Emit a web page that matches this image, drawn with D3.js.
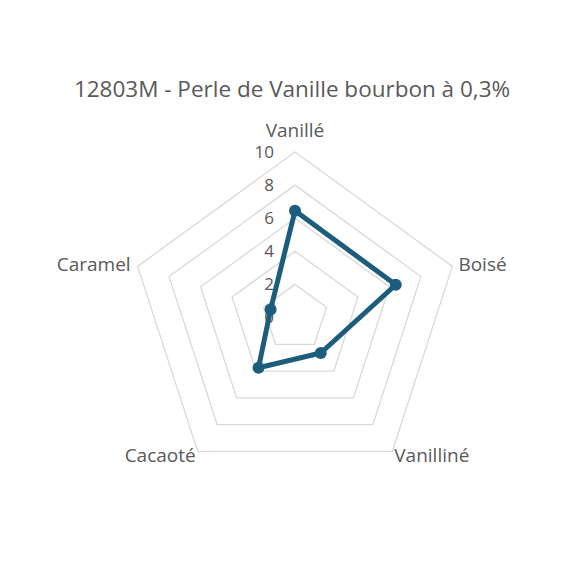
<!DOCTYPE html>
<html>
<head>
<meta charset="utf-8">
<script src="https://cdn.jsdelivr.net/npm/d3@7"></script>
<style>
  body { margin: 0; background: #fff; }
  text { font-family: "Open Sans", sans-serif; fill: #595959; }
</style>
</head>
<body>
<script>
let title = "12803M - Perle de Vanille bourbon à 0,3%";
let axesNames = ["Vanillé", "Boisé", "Vanilliné", "Cacaoté", "Caramel"];
let values = [6.45, 6.4, 2.65, 3.75, 1.55];
let ticks = [0, 2, 4, 6, 8, 10];

let svgWidth = 585,
    svgHeight = 585,
    center = { x: 295, y: 317.5 },
    radius = 165.5,
    lineColor = "#1c5c7c",
    gridColor = "#d9d9d9";

let svg = d3.select("body").append("svg")
    .attr("width", svgWidth)
    .attr("height", svgHeight);

let r = d3.scaleLinear().domain([0, 10]).range([0, radius]);
let angle = d3.scalePoint().domain(d3.range(axesNames.length + 1)).range([0, 2 * Math.PI]);

function pos(i, v) {
    let a = angle(i % axesNames.length);
    return [center.x + r(v) * Math.sin(a), center.y - r(v) * Math.cos(a)];
}

let g = svg.append("g");

// grid pentagons, no spokes
g.selectAll(".grid")
    .data(ticks.filter(t => t > 0))
    .enter().append("polygon")
    .attr("class", "grid")
    .attr("points", t => axesNames.map((d, i) => pos(i, t).join(",")).join(" "))
    .attr("fill", "none")
    .attr("stroke", gridColor)
    .attr("stroke-width", 1.3);

// tick labels
g.selectAll(".tick")
    .data(ticks)
    .enter().append("text")
    .attr("class", "tick")
    .attr("x", center.x - 21)
    .attr("y", t => center.y - r(t))
    .attr("dy", "0.35em")
    .attr("text-anchor", "end")
    .style("font-size", "17px")
    .text(t => t);

// axis labels
let labelOffsets = [
    { dx: 0, dy: -22, anchor: "middle" },
    { dx: 6, dy: -2, anchor: "start" },
    { dx: 2, dy: 4, anchor: "start" },
    { dx: -2, dy: 4, anchor: "end" },
    { dx: -7, dy: -2, anchor: "end" }
];
g.selectAll(".label")
    .data(axesNames)
    .enter().append("text")
    .attr("class", "label")
    .attr("x", (d, i) => pos(i, 10)[0] + labelOffsets[i].dx)
    .attr("y", (d, i) => pos(i, 10)[1] + labelOffsets[i].dy)
    .attr("dy", "0.35em")
    .attr("text-anchor", (d, i) => labelOffsets[i].anchor)
    .style("font-size", "19px")
    .text(d => d);

// series
let line = d3.line().curve(d3.curveLinearClosed);
g.append("path")
    .attr("d", line(values.map((v, i) => pos(i, v))))
    .attr("fill", "none")
    .attr("stroke", lineColor)
    .attr("stroke-width", 5)
    .attr("stroke-linejoin", "round");

g.selectAll(".dot")
    .data(values)
    .enter().append("circle")
    .attr("class", "dot")
    .attr("cx", (v, i) => pos(i, v)[0])
    .attr("cy", (v, i) => pos(i, v)[1])
    .attr("r", 6)
    .attr("fill", lineColor);

// title
svg.append("text")
    .attr("x", 292)
    .attr("y", 97)
    .attr("text-anchor", "middle")
    .style("font-size", "22.5px")
    .text(title);
</script>
</body>
</html>
